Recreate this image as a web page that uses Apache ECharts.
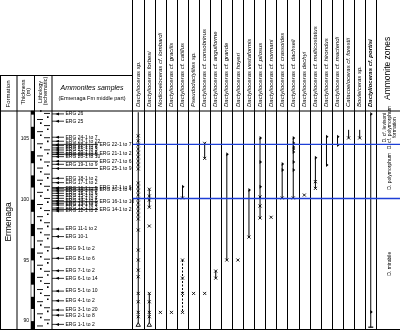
<!DOCTYPE html>
<html><head><meta charset="utf-8">
<script src="https://cdn.jsdelivr.net/npm/echarts@6/dist/echarts.min.js"></script>
<style>html,body{margin:0;padding:0;background:#fff}#c{width:400px;height:330px}</style>
</head><body><div id="c"></div>
<script>
// ---------- data ----------
const species = [
 'Dactylioceras sp.','Dactylioceras forbesi','Nodicoeloceras cf. lombardi','Dactylioceras cf. gracilis',
 'Dactylioceras cf. catillus','Pseudodactylites sp.','Dactylioceras cf. consobrinus','Dactylioceras cf. anguiforme',
 'Dactylioceras cf. grande','Dactylioceras hoyeri','Dactylioceras vestaformis','Dactylioceras cf. pilosus',
 'Dactylioceras cf. normani','Dactylioceras cf. crassoides','Dactylioceras cf. dachseli','Dactylioceras dechyi',
 'Dactylioceras cf. multicostatus','Dactylioceras cf. hirondus','Dactylioceras cf. mactendi','Catacoeloceras cf. forestii',
 'Bouleiceras sp.','Dactylioceras cf. portisi'
];
const boldSpecies = 21;
const zoneHeader = ['Ammonite zones'];
const zoneNames = [['D. cf. levisoni','D. cf. polymorphum','formation'],['D. polymorphum'],['D. mirabile']];
const zoneTops = [107.3, 104.55, 100.1];
const zoneBottoms = [104.55, 100.1, 89.35];
const zoneBounds = [104.55, 100.1];
const thicknessTicks = [90, 95, 100, 105];
const formationName = 'Ermenaga';

const sampleNames = [
 'ERG 26','ERG 25','ERG 24-1 to 7','ERG 23-1 to 22','ERG 22-1 to 5','ERG 21-1 to 6','ERG 21-1 to 3',
 'ERG 20-1 to 8','ERG 20-1 to 5','ERG 20-1 to 10','ERG 19-1 to 9','ERG 18-1 to 2','ERG 17-1 to 2',
 'ERG 16-1 to 5','ERG 16-1 to 2','ERG 15-1 to 6','ERG 15-1 to 3','ERG 14-1 to 4','ERG 14-1 to 6',
 'ERG 13-1 to 6','ERG 13-1 to 2','ERG 12-1 to 3','ERG 12-1 to 2','ERG 11-1 to 2','ERG 10-1',
 'ERG 9-1 to 2','ERG 8-1 to 6','ERG 7-1 to 2','ERG 6-1 to 14','ERG 5-1 to 10','ERG 4-1 to 2',
 'ERG 3-1 to 20','ERG 2-1 to 8','ERG 1-1 to 2',
 'ERG 22-1 to 7','ERG 21-1 to 2','ERG 27-1 to 6','ERG 25-1 to 9','ERG 17-1 to 6','ERG 20-1 to 4',
 'ERG 16-1 to 10','ERG 14-1 to 2'
];
const sampleLevels = [
 107.06,106.46,105.14,104.81,104.45,104.26,104.09,103.90,103.71,103.54,102.91,101.76,101.40,
 100.94,100.71,100.52,100.33,100.11,99.91,99.70,99.56,99.31,99.07,97.58,96.96,95.99,95.17,94.15,
 93.52,92.47,91.67,90.91,90.49,89.73,
 104.55,103.75,103.16,102.57,100.99,100.80,99.83,99.19
];
const sampleSide = [
 0,0,0,0,0,0,0,0,0,0,0,0,0,0,0,0,0,0,0,0,0,0,0,0,0,0,0,0,0,0,0,0,0,0,
 1,1,1,1,1,1,1,1
];

const rangesSolid = [
 [0,107.2,89.67],[1,100.86,99.38],[1,92.28,89.67],[4,101.07,100.14],[6,104.64,103.40],
 [7,94.12,93.54],[8,103.74,95.03],[10,100.80,96.92],[11,105.08,98.49],[13,102.94,100.14],
 [14,105.08,100.14],[16,103.46,100.93],[17,105.19,102.86],[18,105.19,104.51],
 [19,105.75,105.08],[20,105.75,105.08],[21,107.06,89.5]
];
const rangesDashed = [[4,95.03,90.72]];
const xMarks = [
 [0,105.25],[0,104.84],[0,104.51],[0,104.17],[0,103.85],[0,103.52],[0,103.18],[0,102.86],[0,102.53],
 [0,101.37],[0,101.04],[0,100.72],[0,100.39],[0,100.06],[0,99.73],[0,99.40],[0,99.07],[0,98.74],[0,98.41],
 [0,97.50],[0,95.85],[0,95.03],[0,94.20],[0,93.65],[0,92.28],[0,91.59],[0,90.72],[0,90.36],
 [1,100.86],[1,100.30],[1,99.97],[1,99.38],[1,97.83],[1,92.28],[1,91.59],[1,90.72],[1,90.36],
 [2,90.72],[3,90.72],
 [4,100.14],[4,95.03],[4,93.54],[4,92.28],[4,90.72],
 [5,92.28],[6,92.28],[6,104.64],[6,103.40],[7,94.12],[7,93.54],
 [8,95.03],[9,95.03],[10,96.92],[11,100.22],[11,99.48],[11,98.49],[12,98.55],
 [13,100.14],[14,100.14],[15,100.38],[16,101.48],[16,100.93],[19,105.08],[20,105.08]
];
const flagMarks = [
 [4,101.07],[8,103.74],[10,100.80],[11,105.08],[11,103.10],[11,101.07],[13,102.94],[13,102.45],
 [14,105.08],[14,104.67],[14,104.34],[14,104.17],[14,103.93],[14,103.10],[14,102.45],
 [16,103.46],[17,105.19],[17,102.86],[18,105.19],[18,104.51],[21,107.06],[21,90.74]
];
const triMarks = [[0,89.67],[1,89.67]];
const teeMarks = [[21,89.5]];

const scaleBlack = [[89.35,90],[91,92],[93,94],[95,96],[97,98],[99,100],[101,102],[103,104],[105,106],[107,107.3]];
const lithoLevels = [89.6,90.1,90.6,91.1,91.6,92.1,92.6,93.1,93.6,94.1,94.6,95.1,95.6,96.1,96.6,97.1,97.6,98.1,
 98.6,99.1,99.6,100.1,100.6,101.1,101.6,102.1,102.6,103.1,103.6,104.1,104.6,105.1,105.6,106.1,106.6,107.1];

// ---------- layout ----------
const yMin = 89.35, yMax = 107.3;
const FONT = "'Liberation Sans Narrow','Liberation Sans',sans-serif";
const TOP = 111, BOT = 1;
const SPL = 132.7, SPR = 23.7;   // species grid
const chart = echarts.init(document.getElementById('c'), null, {renderer:'canvas'});

function vAxis(i){ return {gridIndex:i, type:'value', min:yMin, max:yMax, show:false}; }
function hideX(i){ return {gridIndex:i, type:'value', min:0, max:1, show:false}; }

function renderRange(dashed){
  return function(params, api){
    const a = api.coord([api.value(0), api.value(1)]);
    const b = api.coord([api.value(0), api.value(2)]);
    return {type:'line', shape:{x1:a[0],y1:a[1],x2:b[0],y2:b[1]},
      style:{stroke:'#000', lineWidth:1, lineDash: dashed ? [2,1.5] : null}};
  };
}
function renderX(params, api){
  const p = api.coord([api.value(0), api.value(1)]); const s = 1.5;
  return {type:'group', children:[
    {type:'line', shape:{x1:p[0]-s,y1:p[1]-s,x2:p[0]+s,y2:p[1]+s}, style:{stroke:'#000',lineWidth:0.9}},
    {type:'line', shape:{x1:p[0]+s,y1:p[1]-s,x2:p[0]-s,y2:p[1]+s}, style:{stroke:'#000',lineWidth:0.9}}]};
}
function renderFlag(params, api){
  const p = api.coord([api.value(0), api.value(1)]);
  return {type:'polygon', shape:{points:[[p[0]-0.5,p[1]-2],[p[0]+2,p[1]],[p[0]-0.5,p[1]+2]]}, style:{fill:'#000'}};
}
function renderTri(params, api){
  const p = api.coord([api.value(0), api.value(1)]);
  return {type:'polygon', shape:{points:[[p[0],p[1]-2.5],[p[0]+2.2,p[1]+1.2],[p[0]-2.2,p[1]+1.2]]},
    style:{fill:'#fff', stroke:'#000', lineWidth:0.9}};
}
function renderTee(params, api){
  const p = api.coord([api.value(0), api.value(1)]);
  return {type:'line', shape:{x1:p[0]-2.5,y1:p[1],x2:p[0]+2.5,y2:p[1]}, style:{stroke:'#000',lineWidth:1.2}};
}
function renderSample(params, api){
  const y = api.coord([0, api.value(0)])[1];
  const x0 = params.coordSys.x;
  const len = api.value(1) ? 46 : 12;
  return {type:'group', children:[
    {type:'line', shape:{x1:x0,y1:y,x2:x0+len,y2:y}, style:{stroke:'#000',lineWidth:0.8}},
    {type:'polygon', shape:{points:[[x0+3.5,y],[x0+7,y-1.5],[x0+7,y+1.5]]}, style:{fill:'#000'}},
    {type:'text', x:x0+len+1.5, y:y, style:{text:sampleNames[params.dataIndex], fill:'#000',
      font:'5px '+FONT, verticalAlign:'middle', align:'left'}}
  ]};
}
function renderScale(params, api){
  const a = api.coord([0, api.value(1)]), b = api.coord([0, api.value(0)]);
  return {type:'rect', shape:{x:params.coordSys.x, y:a[1], width:params.coordSys.width, height:b[1]-a[1]},
    style:{fill:'#000'}};
}
function renderLitho(params, api){
  const y = api.coord([0, api.value(0)])[1];
  const x = params.coordSys.x;
  const odd = params.dataIndex % 2;
  const dashX = odd ? x+10 : x+3, dotX = odd ? x+6 : x+13;
  return {type:'group', children:[
    {type:'line', shape:{x1:dashX,y1:y,x2:dashX+6,y2:y}, style:{stroke:'#000',lineWidth:0.9}},
    {type:'rect', shape:{x:dotX,y:y-3.2,width:1.6,height:1.6}, style:{fill:'#000'}}
  ]};
}
function renderZone(params, api){
  const a = api.coord([0, api.value(0)]), b = api.coord([0, api.value(1)]);
  const names = zoneNames[params.dataIndex];
  const cx = params.coordSys.x + params.coordSys.width/2, cy = (a[1]+b[1])/2;
  const n = names.length, gap = 5;
  return {type:'group', children: names.map((t,k)=>({type:'text', x: cx + (k-(n-1)/2)*gap + 1, y: cy,
    rotation: Math.PI/2, style:{text:t, fill:'#000', font:'5px '+FONT, align:'center', verticalAlign:'middle'}}))};
}
function renderBound(params, api){
  const y = api.coord([0, api.value(0)])[1];
  return {type:'line', shape:{x1:params.coordSys.x, y1:y, x2:params.coordSys.x+params.coordSys.width, y2:y},
    style:{stroke:'#1d3fd6', lineWidth:1.4}};
}

const catX = (i, data, extra) => Object.assign({gridIndex:i, type:'category', data:data, boundaryGap:true,
  axisLine:{show:false}, axisTick:{show:false}, axisLabel:{show:false},
  splitLine:{show:true, interval:0, lineStyle:{color:'#000', width:1}}}, extra||{});

const option = {
  animation:false,
  backgroundColor:'#fff',
  grid:[
    {left:SPL, right:SPR, top:TOP, bottom:BOT},           //0 species data
    {left:SPL, right:SPR, top:0, height:TOP},             //1 species header
    {left:400-SPR, right:0, top:TOP, bottom:BOT},         //2 zones data
    {left:400-SPR, right:0, top:0, height:TOP},           //3 zones header
    {left:52, width:80, top:TOP, bottom:BOT},             //4 samples
    {left:31, width:3, top:TOP, bottom:BOT},              //5 scale bar
    {left:34, width:18, top:TOP, bottom:BOT},             //6 lithology
    {left:SPL, right:0, top:TOP, bottom:BOT}              //7 zone boundaries
  ],
  xAxis:[
    catX(0, species),
    catX(1, species, {axisLabel:{show:true, inside:true, rotate:90, interval:0, margin:4,
      fontFamily:FONT, fontSize:6, fontStyle:'italic', color:'#000',
      formatter:(v,i)=> i===boldSpecies ? '{b|'+v+'}' : v,
      rich:{b:{fontWeight:'bold', fontFamily:FONT, fontSize:6, fontStyle:'italic', color:'#000'}}}}),
    catX(2, zoneHeader),
    catX(3, zoneHeader, {axisLabel:{show:true, inside:true, rotate:90, interval:0, margin:11,
      fontFamily:"'Liberation Sans',sans-serif", fontSize:8.5, color:'#000'}}),
    hideX(4), hideX(5), hideX(6), hideX(7)
  ],
  yAxis:[
    vAxis(0), {gridIndex:1, type:'value', min:0, max:1, show:false},
    vAxis(2), {gridIndex:3, type:'value', min:0, max:1, show:false},
    vAxis(4),
    {gridIndex:5, type:'value', min:yMin, max:yMax, position:'left',
      axisLine:{show:false}, axisTick:{show:false}, splitLine:{show:false},
      axisLabel:{customValues:thicknessTicks, margin:2, fontSize:5, fontFamily:FONT, color:'#000'}},
    vAxis(6), vAxis(7)
  ],
  graphic:[
    // table frame
    {type:'line', shape:{x1:0, y1:111, x2:400, y2:111}, style:{stroke:'#000', lineWidth:1}},
    {type:'line', shape:{x1:0, y1:75.5, x2:SPL, y2:75.5}, style:{stroke:'#000', lineWidth:1}},
    {type:'line', shape:{x1:0, y1:329.5, x2:400, y2:329.5}, style:{stroke:'#000', lineWidth:1}},
    {type:'line', shape:{x1:0.5, y1:75.5, x2:0.5, y2:329.5}, style:{stroke:'#000', lineWidth:1}},
    {type:'line', shape:{x1:17, y1:75.5, x2:17, y2:329.5}, style:{stroke:'#000', lineWidth:1}},
    {type:'line', shape:{x1:34.5, y1:75.5, x2:34.5, y2:329.5}, style:{stroke:'#000', lineWidth:1}},
    {type:'line', shape:{x1:52, y1:75.5, x2:52, y2:329.5}, style:{stroke:'#000', lineWidth:1}},
    {type:'rect', shape:{x:31, y:111, width:3, height:218}, style:{fill:null, stroke:'#000', lineWidth:0.6}},
    // header texts
    {type:'text', x:8, y:94, rotation:Math.PI/2, style:{text:'Formation', font:'6px '+FONT, fill:'#000', align:'center', verticalAlign:'middle'}},
    {type:'text', x:23, y:92, rotation:Math.PI/2, style:{text:'Thickness', font:'5.5px '+FONT, fill:'#000', align:'center', verticalAlign:'middle'}},
    {type:'text', x:28.5, y:92, rotation:Math.PI/2, style:{text:'(m)', font:'5.5px '+FONT, fill:'#000', align:'center', verticalAlign:'middle'}},
    {type:'text', x:40, y:92, rotation:Math.PI/2, style:{text:'Lithology', font:'5.5px '+FONT, fill:'#000', align:'center', verticalAlign:'middle'}},
    {type:'text', x:45.5, y:91, rotation:Math.PI/2, style:{text:'(schematic)', font:'5.5px '+FONT, fill:'#000', align:'center', verticalAlign:'middle'}},
    {type:'text', x:92, y:88, style:{text:'Ammonites samples', font:'italic 7px '+FONT, fill:'#000', align:'center', verticalAlign:'middle'}},
    {type:'text', x:92, y:98, style:{text:'(Ermenaga Fm middle part)', font:'5.5px '+FONT, fill:'#000', align:'center', verticalAlign:'middle'}},
    {type:'text', x:9, y:222, rotation:Math.PI/2, style:{text:formationName, font:'8.5px '+FONT, fill:'#000', align:'center', verticalAlign:'middle'}}
  ],
  series:[
    {type:'custom', xAxisIndex:0, yAxisIndex:0, renderItem:renderRange(false), data:rangesSolid, silent:true},
    {type:'custom', xAxisIndex:0, yAxisIndex:0, renderItem:renderRange(true), data:rangesDashed, silent:true},
    {type:'custom', xAxisIndex:0, yAxisIndex:0, renderItem:renderX, data:xMarks, silent:true},
    {type:'custom', xAxisIndex:0, yAxisIndex:0, renderItem:renderFlag, data:flagMarks, silent:true},
    {type:'custom', xAxisIndex:0, yAxisIndex:0, renderItem:renderTri, data:triMarks, silent:true},
    {type:'custom', xAxisIndex:0, yAxisIndex:0, renderItem:renderTee, data:teeMarks, silent:true},
    {type:'custom', xAxisIndex:4, yAxisIndex:4, renderItem:renderSample,
      data:sampleLevels.map((v,i)=>[v, sampleSide[i]]), silent:true},
    {type:'custom', xAxisIndex:5, yAxisIndex:5, renderItem:renderScale, data:scaleBlack, silent:true},
    {type:'custom', xAxisIndex:6, yAxisIndex:6, renderItem:renderLitho, data:lithoLevels.map(v=>[v]), silent:true},
    {type:'custom', xAxisIndex:2, yAxisIndex:2, renderItem:renderZone,
      data:zoneTops.map((t,i)=>[t, zoneBottoms[i]]), silent:true},
    {type:'custom', xAxisIndex:7, yAxisIndex:7, renderItem:renderBound, data:zoneBounds.map(v=>[v]), silent:true, z:5}
  ]
};
chart.setOption(option);
</script></body></html>
